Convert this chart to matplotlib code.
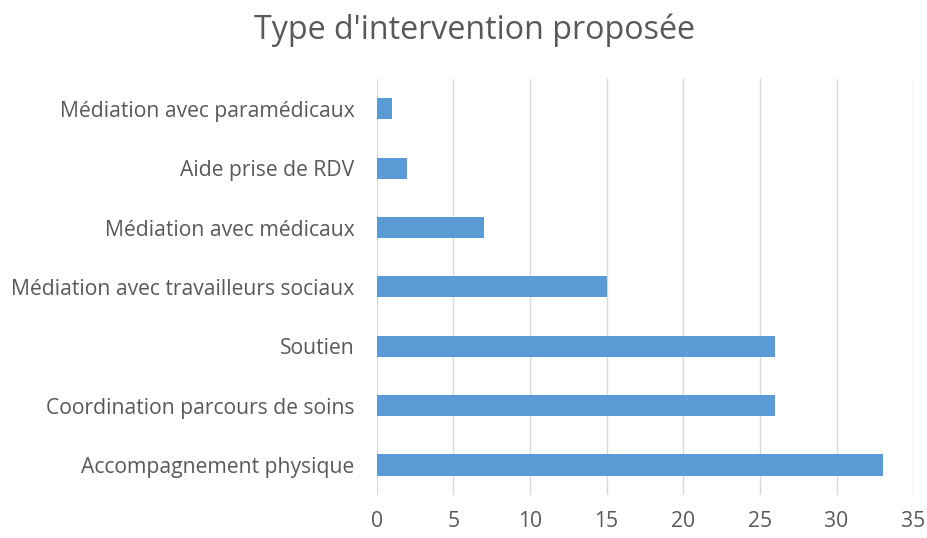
import matplotlib.pyplot as plt

categories = ["Accompagnement physique", "Coordination parcours de soins", "Soutien",
              "Médiation avec travailleurs sociaux", "Médiation avec médicaux",
              "Aide prise de RDV", "Médiation avec paramédicaux"]
values = [33, 26, 26, 15, 7, 2, 1]
xticks = [0, 5, 10, 15, 20, 25, 30, 35]

plt.rcParams['font.family'] = ['Open Sans', 'DejaVu Sans']
gris = '#595959'

fig = plt.figure(figsize=(9.28, 5.38), dpi=100)
ax = fig.add_axes([0.406, 0.0805, 0.578, 0.7725])
ax.barh(range(len(categories)), values, height=0.355, color='#5B9BD5', zorder=3)
ax.set_xlim(0, 35)
ax.set_ylim(-0.5, len(categories) - 0.5)
ax.set_xticks(xticks)
ax.set_yticks(range(len(categories)))
ax.set_yticklabels(categories)
ax.grid(axis='x', color='#D9D9D9', linewidth=1, zorder=0)
for s in ax.spines.values():
    s.set_visible(False)
ax.tick_params(length=0, colors=gris, labelsize=15.2)
ax.tick_params(axis='y', pad=16)
ax.tick_params(axis='x', pad=12)
fig.suptitle("Type d'intervention proposée", x=0.511, y=0.975, fontsize=23.2, color=gris)
fig.savefig('out.png')
